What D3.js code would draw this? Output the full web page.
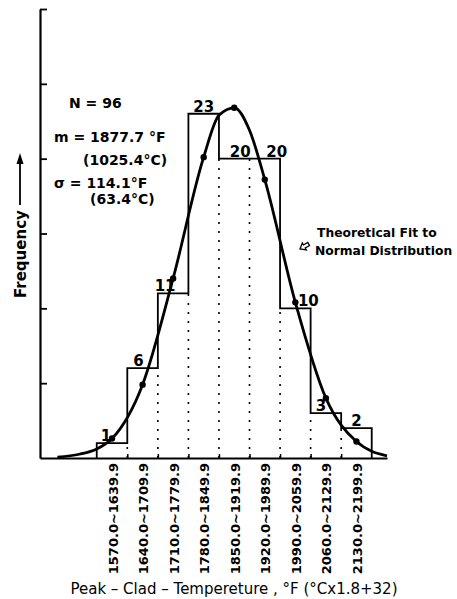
<!DOCTYPE html>
<html>
<head>
<meta charset="utf-8">
<script src="https://cdn.jsdelivr.net/npm/d3@7"></script>
<style>
  body { margin: 0; background: #fff; }
  svg { font-family: "DejaVu Sans", sans-serif; }
</style>
</head>
<body>
<div id="chart"></div>
<script>
// histogram bins (deg F) and counts
let binStart = [1570, 1640, 1710, 1780, 1850, 1920, 1990, 2060, 2130];
let binWidth = 70;
let binLabels = ["1570.0~1639.9", "1640.0~1709.9", "1710.0~1779.9", "1780.0~1849.9",
                 "1850.0~1919.9", "1920.0~1989.9", "1990.0~2059.9", "2060.0~2129.9", "2130.0~2199.9"];
let counts = [1, 6, 11, 23, 20, 20, 10, 3, 2];

// theoretical normal fit
let fitTemp = [1480, 1530, 1570, 1605, 1675, 1745, 1815, 1850, 1885, 1920, 1955, 2025, 2095, 2165, 2200, 2235];
let fitFreq = [0.05, 0.25, 0.6, 1.3, 4.9, 12.0, 20.1, 22.9, 23.4, 21.9, 18.6, 10.4, 4.0, 1.1, 0.45, 0.15];
// marker dots on the curve (bin centres)
let dotTemp = [1605, 1675, 1745, 1815, 1885, 1955, 2025, 2095, 2165];
let dotFreq = [1.3, 4.9, 12.0, 20.1, 23.4, 18.6, 10.4, 4.0, 1.1];

let yTicks = [5, 10, 15, 20, 25, 30];
let statLines = ["N = 96", "m = 1877.7 °F", "(1025.4°C)", "σ = 114.1°F", "(63.4°C)"];
let fitNote = ["Theoretical Fit to", "Normal Distribution"];
let yTitle = "Frequency";
let xTitle = "Peak – Clad – Tempereture , °F (°Cx1.8+32)";

let svgWidth = 457;
let svgHeight = 599;

let svg = d3.select("#chart")
  .append("svg")
  .attr("width", svgWidth)
  .attr("height", svgHeight)

let xScale = d3.scaleLinear().domain([1440, 2235]).range([40, 387])
let yScale = d3.scaleLinear().domain([0, 30]).range([458, 9])

// dotted bin edges inside the histogram
let edges = d3.range(1, binStart.length).map(i => ({
  x: binStart[i], top: Math.min(counts[i - 1], counts[i])
}));
svg.selectAll("line.edge")
  .data(edges)
  .enter()
  .append("line")
  .attr("class", "edge")
  .attr("x1", d => xScale(d.x))
  .attr("x2", d => xScale(d.x))
  .attr("y1", yScale(0))
  .attr("y2", d => yScale(d.top))
  .attr("stroke", "#000")
  .attr("stroke-width", 1.6)
  .attr("stroke-dasharray", "2,7")

// histogram step outline
let stepPts = [[binStart[0], 0]]
  .concat(binStart.map((b, i) => [b, counts[i]]))
  .concat([[binStart[binStart.length - 1] + binWidth, counts[counts.length - 1]],
           [binStart[binStart.length - 1] + binWidth, 0]]);
let stepLine = d3.line()
  .x(d => xScale(d[0]))
  .y(d => yScale(d[1]))
  .curve(d3.curveStepAfter)
svg.append("path")
  .attr("d", stepLine(stepPts))
  .attr("fill", "none")
  .attr("stroke", "#000")
  .attr("stroke-width", 1.8)

// count labels above bars
let labelShift = [-6, -4, -8, 0, 6, 12, 13, -5, 0];
svg.selectAll("text.count")
  .data(counts)
  .enter()
  .append("text")
  .attr("class", "count")
  .attr("x", (d, i) => xScale(binStart[i] + binWidth / 2) + labelShift[i])
  .attr("y", d => yScale(d) - 2)
  .attr("text-anchor", "middle")
  .attr("font-size", 15)
  .attr("font-weight", "bold")
  .text(d => d)

// normal fit curve
let fitLine = d3.line()
  .x((d, i) => xScale(fitTemp[i]))
  .y(d => yScale(d))
  .curve(d3.curveMonotoneX)
svg.append("path")
  .attr("d", fitLine(fitFreq))
  .attr("fill", "none")
  .attr("stroke", "#000")
  .attr("stroke-width", 2.8)

svg.selectAll("circle.dot")
  .data(dotFreq)
  .enter()
  .append("circle")
  .attr("class", "dot")
  .attr("cx", (d, i) => xScale(dotTemp[i]))
  .attr("cy", d => yScale(d))
  .attr("r", 3.2)
  .attr("fill", "#000")

// axes
let xEdgeAxis = d3.axisBottom(xScale)
  .tickValues(binStart.slice(1))
  .tickSizeInner(-4)
  .tickSizeOuter(0)
  .tickFormat("")
let gx = svg.append("g")
  .attr("transform", `translate(0,${yScale(0)})`)
  .call(xEdgeAxis)
gx.select(".domain").attr("stroke-width", 2.2)
gx.selectAll(".tick line").attr("stroke-width", 1.5)

let xLabelAxis = d3.axisBottom(xScale)
  .tickValues(binStart.map(b => b + binWidth / 2))
  .tickSize(0)
  .tickFormat((d, i) => binLabels[i])
let gxl = svg.append("g")
  .attr("transform", `translate(0,${yScale(0)})`)
  .call(xLabelAxis)
gxl.select(".domain").remove()
gxl.selectAll("text")
  .attr("transform", "rotate(-90)")
  .attr("x", -5)
  .attr("y", 5)
  .attr("dy", null)
  .attr("text-anchor", "end")
  .attr("font-family", "DejaVu Sans")
  .attr("font-weight", "bold")
  .attr("font-size", 13)
  .attr("fill", "#000")

let yAxis = d3.axisLeft(yScale)
  .tickValues(yTicks)
  .tickSizeInner(-7)
  .tickSizeOuter(0)
  .tickFormat("")
let gy = svg.append("g")
  .attr("transform", `translate(${xScale(1440)},0)`)
  .call(yAxis)
gy.select(".domain").attr("stroke-width", 2.2)
gy.selectAll(".tick line").attr("stroke-width", 1.8)

// stats block
let statPos = [[69, 108], [54, 142], [83, 165], [54, 188], [90, 204]];
svg.selectAll("text.stat")
  .data(statLines)
  .enter()
  .append("text")
  .attr("class", "stat")
  .attr("x", (d, i) => statPos[i][0])
  .attr("y", (d, i) => statPos[i][1])
  .attr("font-size", 14)
  .attr("font-weight", "bold")
  .text(d => d)

// fit note with hollow arrow
svg.selectAll("text.note")
  .data(fitNote)
  .enter()
  .append("text")
  .attr("class", "note")
  .attr("x", (d, i) => i == 0 ? 317 : 315)
  .attr("y", (d, i) => 237 + i * 18)
  .attr("font-size", 12.3)
  .attr("font-weight", "bold")
  .text(d => d)
svg.append("path")
  .attr("d", "M0,0 L5,-4 L5,-1.8 L10,-1.8 L10,1.8 L5,1.8 L5,4 Z")
  .attr("transform", "translate(300,249) rotate(-30)")
  .attr("fill", "#fff")
  .attr("stroke", "#000")
  .attr("stroke-width", 1.3)

// y title with arrow
svg.append("text")
  .attr("transform", "translate(25.5,298) rotate(-90)")
  .attr("font-size", 15)
  .attr("font-weight", "bold")
  .text(yTitle)
svg.append("line")
  .attr("x1", 20).attr("x2", 20)
  .attr("y1", 205).attr("y2", 162)
  .attr("stroke", "#000")
  .attr("stroke-width", 1.8)
svg.append("path")
  .attr("d", "M20,153 L16.5,164 L23.5,164 Z")
  .attr("fill", "#000")

// x title
svg.append("text")
  .attr("x", 234)
  .attr("y", 594)
  .attr("text-anchor", "middle")
  .attr("font-size", 15)
  .text(xTitle)
</script>
</body>
</html>
